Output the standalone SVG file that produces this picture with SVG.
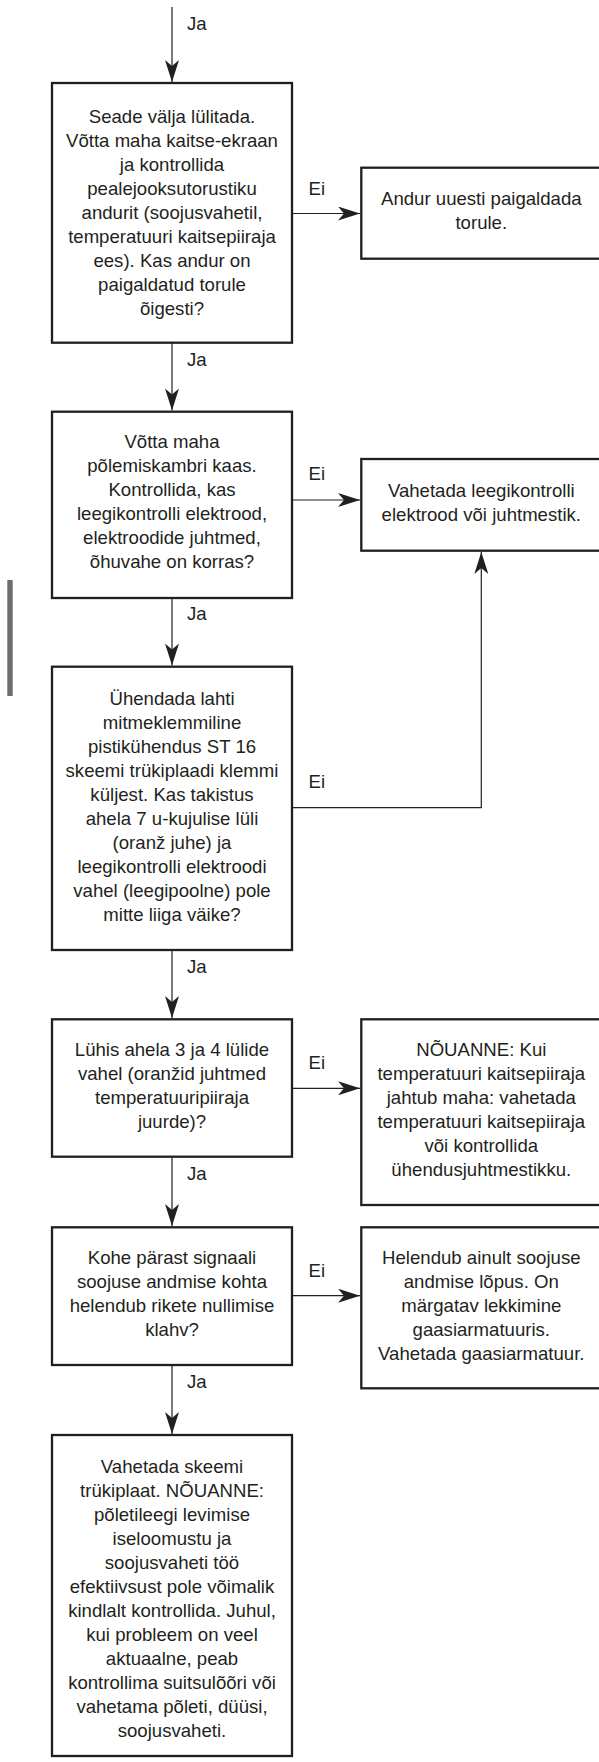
<svg xmlns="http://www.w3.org/2000/svg" width="599" height="1762" viewBox="0 0 599 1762">
<style>
.box{fill:#fff;stroke:#231f20;stroke-width:2.3}
.ln{fill:none;stroke:#231f20;stroke-width:1.2}
text{font-family:"Liberation Sans",Arial,Helvetica,sans-serif;font-size:18.6px;fill:#231f20}
.c{text-anchor:middle}
</style>
<defs>
<marker id="ah" viewBox="0 0 22 14" refX="22" refY="7" markerWidth="22" markerHeight="14" markerUnits="userSpaceOnUse" orient="auto">
<path d="M0,0 L22,7 L0,14 L6,7 Z" fill="#231f20"/>
</marker>
</defs>
<rect x="7.3" y="580" width="5.4" height="116" fill="#6d6d6d"/>
<g id="connectors">
<line class="ln" x1="172" y1="7" x2="172" y2="82" marker-end="url(#ah)"/>
<line class="ln" x1="172" y1="343" x2="172" y2="410.5" marker-end="url(#ah)"/>
<line class="ln" x1="172" y1="598" x2="172" y2="665.5" marker-end="url(#ah)"/>
<line class="ln" x1="172" y1="950" x2="172" y2="1018" marker-end="url(#ah)"/>
<line class="ln" x1="172" y1="1157" x2="172" y2="1226" marker-end="url(#ah)"/>
<line class="ln" x1="172" y1="1365" x2="172" y2="1434" marker-end="url(#ah)"/>
<line class="ln" x1="292" y1="213.5" x2="360" y2="213.5" marker-end="url(#ah)"/>
<line class="ln" x1="292" y1="500" x2="360" y2="500" marker-end="url(#ah)"/>
<polyline class="ln" points="292,807.7 481.3,807.7 481.3,552" marker-end="url(#ah)"/>
<line class="ln" x1="292" y1="1088.3" x2="360" y2="1088.3" marker-end="url(#ah)"/>
<line class="ln" x1="292" y1="1295.7" x2="360" y2="1295.7" marker-end="url(#ah)"/>
<text x="187" y="30">Ja</text>
<text x="187" y="366">Ja</text>
<text x="187" y="620">Ja</text>
<text x="187" y="973">Ja</text>
<text x="187" y="1180">Ja</text>
<text x="187" y="1388">Ja</text>
<text x="308.6" y="195">Ei</text>
<text x="308.6" y="480">Ei</text>
<text x="308.6" y="788">Ei</text>
<text x="308.6" y="1069">Ei</text>
<text x="308.6" y="1277">Ei</text>
</g>
<g id="n1">
<rect class="box" x="52" y="83" width="240" height="259.7"/>
<text class="c" x="172" y="122.7">Seade välja lülitada.</text>
<text class="c" x="172" y="146.7">Võtta maha kaitse-ekraan</text>
<text class="c" x="172" y="170.7">ja kontrollida</text>
<text class="c" x="172" y="194.7">pealejooksutorustiku</text>
<text class="c" x="172" y="218.7">andurit (soojusvahetil,</text>
<text class="c" x="172" y="242.7">temperatuuri kaitsepiiraja</text>
<text class="c" x="172" y="266.7">ees). Kas andur on</text>
<text class="c" x="172" y="290.7">paigaldatud torule</text>
<text class="c" x="172" y="314.7">õigesti?</text>
</g>
<g id="n2">
<rect class="box" x="361.3" y="167.7" width="242" height="91"/>
<text class="c" x="481.3" y="205">Andur uuesti paigaldada</text>
<text class="c" x="481.3" y="229">torule.</text>
</g>
<g id="n3">
<rect class="box" x="52" y="411.7" width="240" height="186.3"/>
<text class="c" x="172" y="448.3">Võtta maha</text>
<text class="c" x="172" y="472.3">põlemiskambri kaas.</text>
<text class="c" x="172" y="496.3">Kontrollida, kas</text>
<text class="c" x="172" y="520.3">leegikontrolli elektrood,</text>
<text class="c" x="172" y="544.3">elektroodide juhtmed,</text>
<text class="c" x="172" y="568.3">õhuvahe on korras?</text>
</g>
<g id="n4">
<rect class="box" x="361.3" y="459" width="242" height="91.7"/>
<text class="c" x="481.3" y="496.7">Vahetada leegikontrolli</text>
<text class="c" x="481.3" y="521">elektrood või juhtmestik.</text>
</g>
<g id="n5">
<rect class="box" x="52" y="666.7" width="240" height="283.3"/>
<text class="c" x="172" y="705">Ühendada lahti</text>
<text class="c" x="172" y="729">mitmeklemmiline</text>
<text class="c" x="172" y="753">pistikühendus ST 16</text>
<text class="c" x="172" y="777">skeemi trükiplaadi klemmi</text>
<text class="c" x="172" y="801">küljest. Kas takistus</text>
<text class="c" x="172" y="825">ahela 7 u-kujulise lüli</text>
<text class="c" x="172" y="849">(oranž juhe) ja</text>
<text class="c" x="172" y="873">leegikontrolli elektroodi</text>
<text class="c" x="172" y="897">vahel (leegipoolne) pole</text>
<text class="c" x="172" y="921">mitte liiga väike?</text>
</g>
<g id="n6">
<rect class="box" x="52" y="1019.3" width="240" height="137.4"/>
<text class="c" x="172" y="1056">Lühis ahela 3 ja 4 lülide</text>
<text class="c" x="172" y="1080">vahel (oranžid juhtmed</text>
<text class="c" x="172" y="1104">temperatuuripiiraja</text>
<text class="c" x="172" y="1128">juurde)?</text>
</g>
<g id="n7">
<rect class="box" x="361.3" y="1019.3" width="242" height="185.7"/>
<text class="c" x="481.3" y="1056">NÕUANNE: Kui</text>
<text class="c" x="481.3" y="1080">temperatuuri kaitsepiiraja</text>
<text class="c" x="481.3" y="1104">jahtub maha: vahetada</text>
<text class="c" x="481.3" y="1128">temperatuuri kaitsepiiraja</text>
<text class="c" x="481.3" y="1152">või kontrollida</text>
<text class="c" x="481.3" y="1176">ühendusjuhtmestikku.</text>
</g>
<g id="n8">
<rect class="box" x="52" y="1227.3" width="240" height="137.7"/>
<text class="c" x="172" y="1264">Kohe pärast signaali</text>
<text class="c" x="172" y="1288">soojuse andmise kohta</text>
<text class="c" x="172" y="1312">helendub rikete nullimise</text>
<text class="c" x="172" y="1336">klahv?</text>
</g>
<g id="n9">
<rect class="box" x="361.3" y="1227.3" width="242" height="161"/>
<text class="c" x="481.3" y="1264">Helendub ainult soojuse</text>
<text class="c" x="481.3" y="1288">andmise lõpus. On</text>
<text class="c" x="481.3" y="1312">märgatav lekkimine</text>
<text class="c" x="481.3" y="1336">gaasiarmatuuris.</text>
<text class="c" x="481.3" y="1360">Vahetada gaasiarmatuur.</text>
</g>
<g id="n10">
<rect class="box" x="52" y="1435" width="240" height="321"/>
<text class="c" x="172" y="1472.7">Vahetada skeemi</text>
<text class="c" x="172" y="1496.7">trükiplaat. NÕUANNE:</text>
<text class="c" x="172" y="1520.7">põletileegi levimise</text>
<text class="c" x="172" y="1544.7">iseloomustu ja</text>
<text class="c" x="172" y="1568.7">soojusvaheti töö</text>
<text class="c" x="172" y="1592.7">efektiivsust pole võimalik</text>
<text class="c" x="172" y="1616.7">kindlalt kontrollida. Juhul,</text>
<text class="c" x="172" y="1640.7">kui probleem on veel</text>
<text class="c" x="172" y="1664.7">aktuaalne, peab</text>
<text class="c" x="172" y="1688.7">kontrollima suitsulõõri või</text>
<text class="c" x="172" y="1712.7">vahetama põleti, düüsi,</text>
<text class="c" x="172" y="1736.7">soojusvaheti.</text>
</g>
</svg>
